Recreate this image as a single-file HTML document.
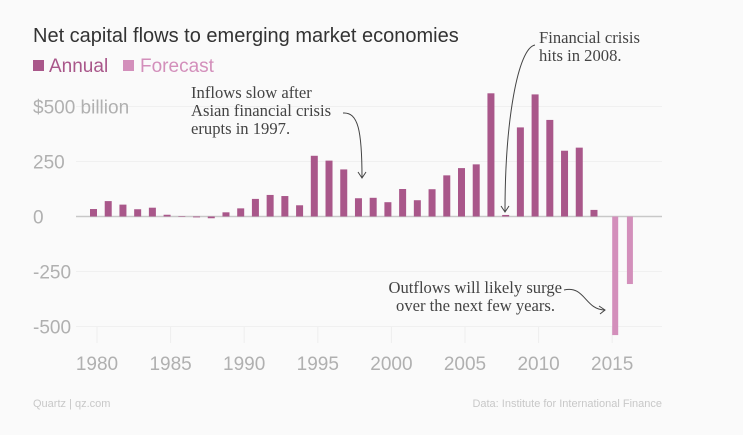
<!DOCTYPE html>
<html><head><meta charset="utf-8"><style>
body{margin:0;background:#fafafa;}
svg{display:block;font-family:"Liberation Sans",sans-serif;}
.ann{font-family:"Liberation Serif",serif;font-size:16.6px;fill:#444;}
</style></head><body>
<svg width="743" height="435" viewBox="0 0 743 435">
<rect width="743" height="435" fill="#fafafa"/>
<text x="33" y="42" font-size="20" fill="#333">Net capital flows to emerging market economies</text>
<g>
<rect x="33" y="60" width="11" height="11" fill="#a9578a"/>
<text x="49" y="72" font-size="19" fill="#a9578a">Annual</text>
<rect x="123" y="60" width="11" height="11" fill="#d38fbb"/>
<text x="140" y="72" font-size="19" fill="#d38fbb">Forecast</text>
</g>
<g id="grid"></g><g id="bars"></g>
<g fill="none" stroke="#444" stroke-width="1">
<path d="M343 113 C358 112 362 130 362 178"/>
<path d="M358 172 L362 178 L366 172"/>
<path d="M535 45 C518 48 505 120 505 212"/>
<path d="M501 206 L505 212 L509 206"/>
<path d="M564 290 C585 285 585 310 605 310"/>
<path d="M599 306 L605 310 L600 314"/>
</g>
<text class="ann" x="191" y="98"><tspan x="191">Inflows slow after</tspan><tspan x="191" dy="18">Asian financial crisis</tspan><tspan x="191" dy="18">erupts in 1997.</tspan></text>
<text class="ann" x="539" y="43"><tspan x="539">Financial crisis</tspan><tspan x="539" dy="18">hits in 2008.</tspan></text>
<text class="ann" x="562" y="293" text-anchor="end"><tspan x="562">Outflows will likely surge</tspan><tspan x="555" dy="18">over the next few years.</tspan></text>
<text x="33" y="407" font-size="11" fill="#c8c8c8">Quartz | qz.com</text>
<text x="662" y="407" font-size="11" fill="#c8c8c8" text-anchor="end">Data: Institute for International Finance</text>
</svg>
<script>
const years=[1980,1981,1982,1983,1984,1985,1986,1987,1988,1989,1990,1991,1992,1993,1994,1995,1996,1997,1998,1999,2000,2001,2002,2003,2004,2005,2006,2007,2008,2009,2010,2011,2012,2013,2014];
const annual=[34,70,54,33,40,8,1,-4,-8,19,37,80,98,93,51,276,254,214,83,85,65,125,74,124,187,220,237,560,7,405,555,439,299,313,30];
const forecastYears=[2015,2016];
const forecast=[-539,-307];
const yTicks=[500,250,0,-250,-500];
const yLabels=["$500 billion","250","0","-250","-500"];
const xTicks=[1980,1985,1990,1995,2000,2005,2010,2015];
const NS="http://www.w3.org/2000/svg";
const x=y=>97+14.72*(y-1980);
const yS=v=>216.5-0.22*v;
const grid=document.getElementById('grid'),bars=document.getElementById('bars');
function mk(t,a,p){const e=document.createElementNS(NS,t);for(const k in a)e.setAttribute(k,a[k]);p.appendChild(e);return e;}
yTicks.forEach((v,i)=>{
 const l=mk('line',{x1:76,x2:662,y1:yS(v),y2:yS(v),stroke:v===0?'#c8c8c8':'#f0f0f0','stroke-width':v===0?1.5:1},grid);
 
 
 const t=mk('text',{x:33,y:yS(v)+7,'font-size':19,fill:'#b0b0b0'},grid);
 t.textContent=yLabels[i];
 
 
});
xTicks.forEach(v=>{
 const l=mk('line',{x1:x(v),x2:x(v),y1:327,y2:343,stroke:'#eee'},grid);
 
 
 const t=mk('text',{x:x(v),y:370,'font-size':19,fill:'#b0b0b0','text-anchor':'middle'},grid);
 t.textContent=v;
 
 
});
years.forEach((yr,i)=>{
 const v=annual[i];
 const r=mk('rect',{x:x(yr)-7,y:Math.min(yS(v),yS(0)),width:7,height:Math.max(Math.abs(yS(v)-yS(0)),0.5),fill:'#a9578a'},bars);
 
 
});
forecastYears.forEach((yr,i)=>{
 const v=forecast[i];
 const r=mk('rect',{x:x(yr),y:Math.min(yS(v),yS(0)),width:6,height:Math.abs(yS(v)-yS(0)),fill:'#d38fbb'},bars);
 
 
});
</script>
</body></html>
